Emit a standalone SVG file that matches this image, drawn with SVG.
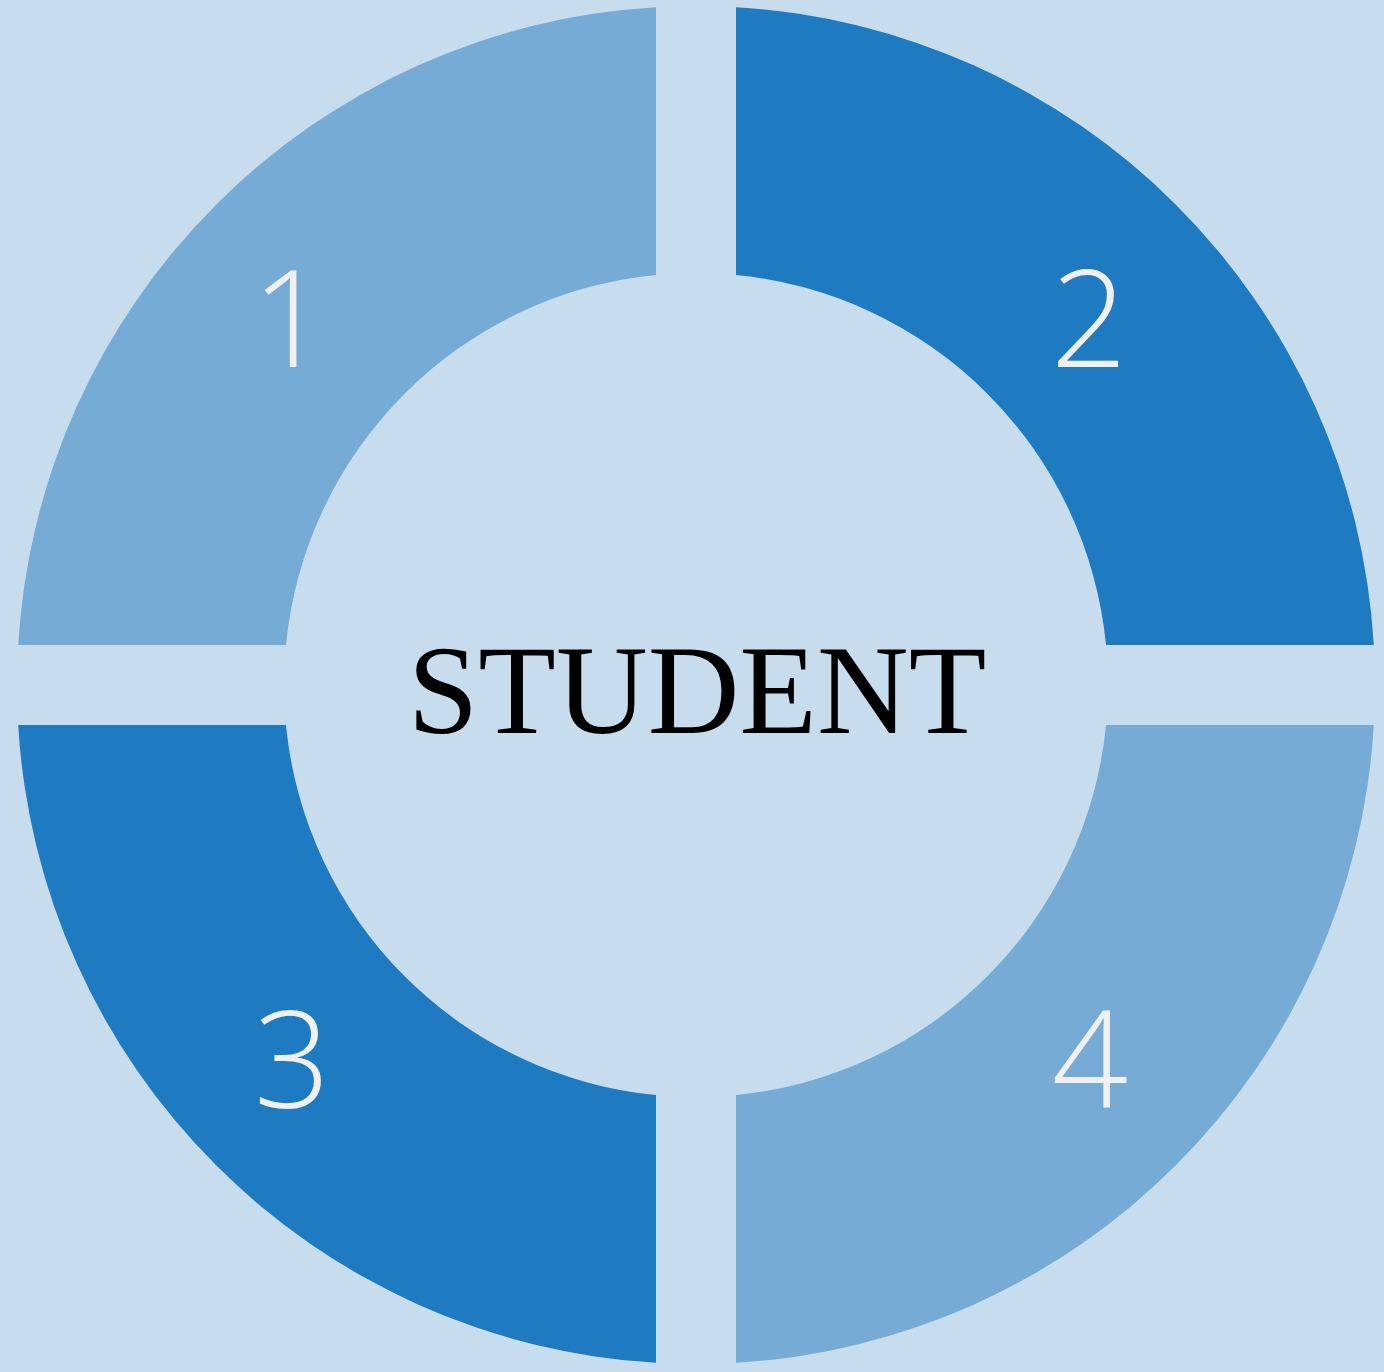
<svg xmlns="http://www.w3.org/2000/svg" width="1384" height="1372" viewBox="0 0 1384 1372">
<style>
.light{fill:#75ABD5}
.dark{fill:#1F7BC1}
.num{font-family:"Open Sans","Segoe UI","DejaVu Sans",sans-serif;font-weight:300;font-size:134px;fill:#F0F0F0;text-anchor:middle}
.title{font-family:"Liberation Serif","Times New Roman",serif;font-size:127px;fill:#000;text-anchor:middle}
</style>
<rect x="0" y="0" width="1384" height="1372" fill="#C7DDEE"/>
<g id="seg1"><path class="light" d="M656,7.18 A679,679 0 0 0 18.18,645 L285.95,645 A412,412 0 0 1 656,274.95 Z"/><text class="num" x="290" y="367">1</text></g>
<g id="seg2"><path class="dark" d="M736,7.18 L736,274.95 A412,412 0 0 1 1106.05,645 L1373.82,645 A679,679 0 0 0 736,7.18 Z"/><text class="num" x="1089" y="367">2</text></g>
<g id="seg3"><path class="dark" d="M18.18,725 A679,679 0 0 0 656,1362.82 L656,1095.05 A412,412 0 0 1 285.95,725 Z"/><text class="num" x="292" y="1108">3</text></g>
<g id="seg4"><path class="light" d="M736,1362.82 A679,679 0 0 0 1373.82,725 L1106.05,725 A412,412 0 0 1 736,1095.05 Z"/><text class="num" x="1090" y="1108">4</text></g>
<g id="center"><text class="title" x="697" y="733">STUDENT</text></g>
<g id="connectors"/>
</svg>
